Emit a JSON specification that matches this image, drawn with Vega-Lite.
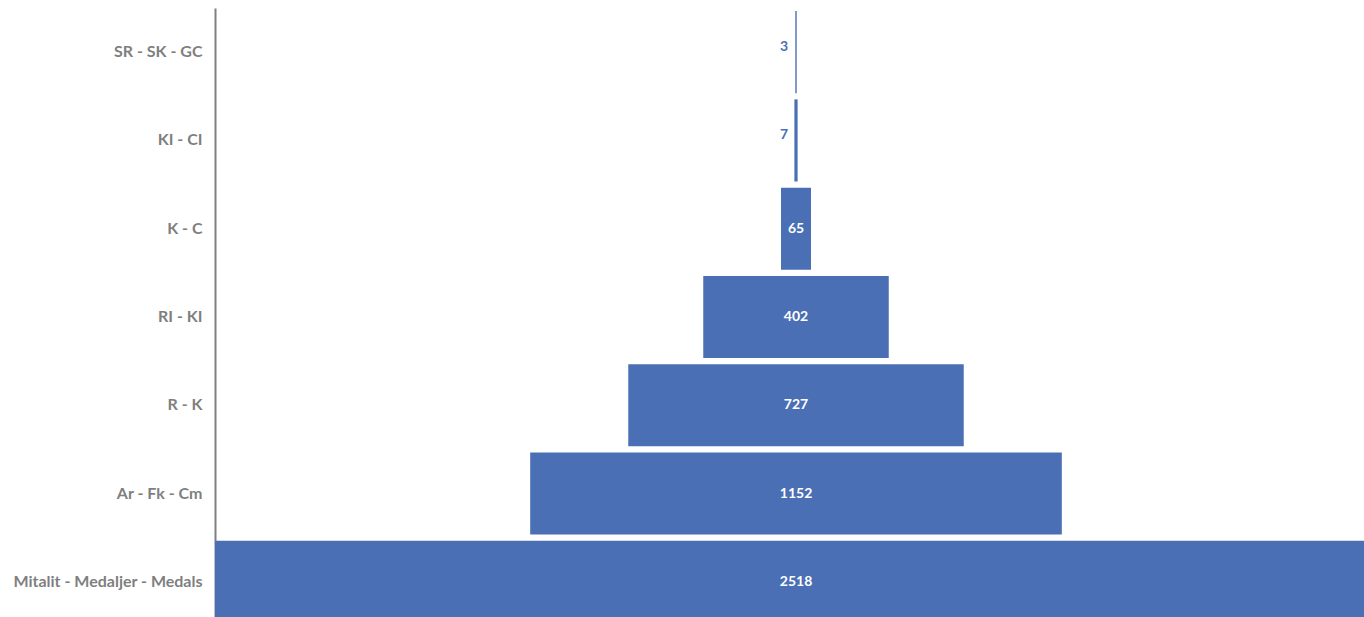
{
  "$schema": "https://vega.github.io/schema/vega-lite/v6.json",
  "width": 1162,
  "height": 618,
  "autosize": {"type": "none"},
  "padding": {"left": 215, "top": 8, "right": 0, "bottom": 0},
  "background": "white",
  "config": {"view": {"stroke": null}, "font": "Lato"},
  "data": {
    "values": [
      {"category": "SR - SK - GC", "count": 3},
      {"category": "KI - CI", "count": 7},
      {"category": "K - C", "count": 65},
      {"category": "RI - KI", "count": 402},
      {"category": "R - K", "count": 727},
      {"category": "Ar - Fk - Cm", "count": 1152},
      {"category": "Mitalit - Medaljer - Medals", "count": 2518}
    ]
  },
  "encoding": {
    "y": {
      "field": "category",
      "type": "nominal",
      "sort": null,
      "scale": {"paddingInner": 0.07, "paddingOuter": 0.035},
      "axis": {
        "title": null,
        "ticks": false,
        "grid": false,
        "domainColor": "#808080",
        "domainWidth": 2,
        "labelFont": "Lato",
        "labelFontWeight": "bold",
        "labelFontSize": 16,
        "labelColor": "#7f7f7f",
        "labelPadding": 13,
        "labelLimit": 400
      }
    }
  },
  "layer": [
    {
      "mark": {"type": "bar", "color": "#4a6fb4"},
      "encoding": {
        "x": {
          "field": "count",
          "type": "quantitative",
          "stack": "center",
          "axis": null,
          "scale": {"domain": [0, 2518], "nice": false, "zero": true}
        }
      }
    },
    {
      "transform": [{"filter": "datum.count >= 10"}],
      "mark": {"type": "text", "color": "white", "fontWeight": "bold", "fontSize": 14, "font": "Lato"},
      "encoding": {
        "x": {"datum": 1259, "type": "quantitative", "axis": null},
        "text": {"field": "count", "type": "quantitative"}
      }
    },
    {
      "transform": [{"filter": "datum.count < 10"}],
      "mark": {"type": "text", "color": "#4a6fb4", "fontWeight": "bold", "fontSize": 14, "font": "Lato", "align": "right", "dx": -8, "dy": -5},
      "encoding": {
        "x": {"datum": 1259, "type": "quantitative", "axis": null},
        "text": {"field": "count", "type": "quantitative"}
      }
    }
  ]
}
